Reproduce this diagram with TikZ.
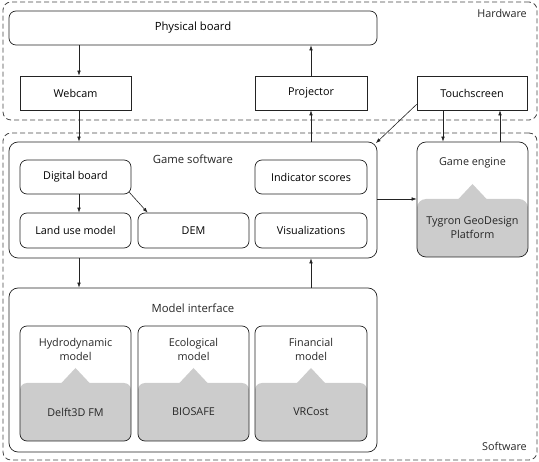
\documentclass[tikz,border=0pt]{standalone}
\usepackage{fontspec}
\setmainfont{Open Sans}
\usetikzlibrary{arrows.meta}
\definecolor{shadegrey}{RGB}{204,204,204}
\definecolor{linegrey}{RGB}{35,35,35}
\definecolor{dashgrey}{RGB}{70,70,70}
\begin{document}
\begin{tikzpicture}[x=1pt,y=-1pt,
  font=\fontsize{10.8}{14}\selectfont,
  sqbox/.style={draw=linegrey, line width=0.7pt, inner sep=0pt, minimum width=111pt, minimum height=34pt},
  rbox/.style={sqbox, rounded corners=7pt},
  grp/.style={draw=dashgrey, line width=0.8pt, dash pattern=on 5pt off 3pt, rounded corners=8pt, inner sep=0pt},
  modelbox/.style={rbox, minimum height=115pt,
    path picture={
      \fill[shadegrey] (path picture bounding box.south west) rectangle ([yshift=58pt]path picture bounding box.south east);
      \fill[shadegrey, sharp corners] ([xshift=-15pt,yshift=57pt]path picture bounding box.south) -- ([yshift=73pt]path picture bounding box.south) -- ([xshift=15pt,yshift=57pt]path picture bounding box.south) -- cycle;
    }},
  arr/.style={draw=linegrey, line width=0.6pt, -{Latex[length=5pt,width=3.6pt]}},
  lbl/.style={inner sep=0pt, align=center, text=black!85}
]
\useasboundingbox (0,0) rectangle (539,462);

% groups
\node[grp, minimum width=534pt, minimum height=118pt] (hwg) at (270,61) {};
\node[grp, minimum width=534pt, minimum height=327pt] (swg) at (270,296.5) {};
\node[lbl, anchor=east] (hwl) at (527,13) {Hardware};
\node[lbl, anchor=east] (swl) at (527,446) {Software};

% hardware
\node[rbox, minimum width=368pt, font=\fontsize{11.3}{14}\selectfont] (pb) at (193,28) {Physical board};
\node[sqbox] (wc) at (75.5,93) {Webcam};
\node[sqbox, minimum width=112pt] (pj) at (311,93) {Projector};
\node[sqbox, minimum width=110pt] (ts) at (472,93) {Touchscreen};

% game software
\node[rbox, minimum width=368pt, minimum height=116pt, rounded corners=9pt] (gs) at (193,200) {};
\node[lbl, font=\fontsize{11.3}{14}\selectfont] (gst) at (193,159) {Game software};
\node[rbox] (db) at (75.5,177) {Digital board};
\node[rbox, minimum height=35pt] (lu) at (75.5,230.5) {Land use model};
\node[rbox, minimum height=35pt] (dem) at (193.5,230.5) {DEM};
\node[rbox, minimum width=112pt] (ind) at (311,177) {Indicator scores};
\node[rbox, minimum width=112pt, minimum height=35pt] (vis) at (311,230.5) {Visualizations};

% game engine
\node[modelbox, rounded corners=9pt] (ge) at (472.5,199.5) {};
\node[lbl] (get) at (472.5,163) {Game engine};
\node[lbl] (geb) at (472.5,228) {Tygron GeoDesign\\Platform};

% model interface
\node[rbox, minimum width=368pt, minimum height=164pt, rounded corners=9pt] (mi) at (193,370) {};
\node[lbl, font=\fontsize{11.3}{14}\selectfont] (mit) at (193,308) {Model interface};
\node[modelbox] (hy) at (75.5,383.5) {};
\node[modelbox] (ec) at (193.5,383.5) {};
\node[modelbox, minimum width=112pt] (fi) at (311,383.5) {};
\node[lbl] (hyt) at (75.5,349) {Hydrodynamic\\model};
\node[lbl] (ect) at (193.5,349) {Ecological\\model};
\node[lbl] (fit) at (311,349) {Financial\\model};
\node[lbl] (hyb) at (75.5,412) {Delft3D FM};
\node[lbl] (ecb) at (193.5,412) {BIOSAFE};
\node[lbl] (fib) at (311,412) {VRCost};

% helper x positions
\coordinate (lx) at (79,0);
\coordinate (rx) at (311,0);
\coordinate (tx1) at (443,0);
\coordinate (tx2) at (500,0);

% connectors
\draw[arr] (pb.south -| lx) -- (wc.north -| lx);
\draw[arr] (pj.north -| rx) -- (pb.south -| rx);
\draw[arr] (wc.south -| lx) -- (gs.north -| lx);
\draw[arr] (gs.north -| rx) -- (pj.south -| rx);
\draw[arr] ([yshift=6pt]ts.south west) -- ([xshift=-1.5pt,yshift=-1.5pt]gs.north east);
\draw[arr] (ts.south -| tx1) -- (ge.north -| tx1);
\draw[arr] (ge.north -| tx2) -- (ts.south -| tx2);
\draw[arr] (gs.east |- 0,199) -- (ge.west |- 0,199);
\draw[arr] (db.south -| lx) -- (lu.north -| lx);
\draw[arr] ([xshift=-2pt,yshift=2pt]db.south east) -- ([xshift=10pt]dem.north west);
\draw[arr] (gs.south -| lx) -- (mi.north -| lx);
\draw[arr] (mi.north -| rx) -- (gs.south -| rx);
\end{tikzpicture}
\end{document}
